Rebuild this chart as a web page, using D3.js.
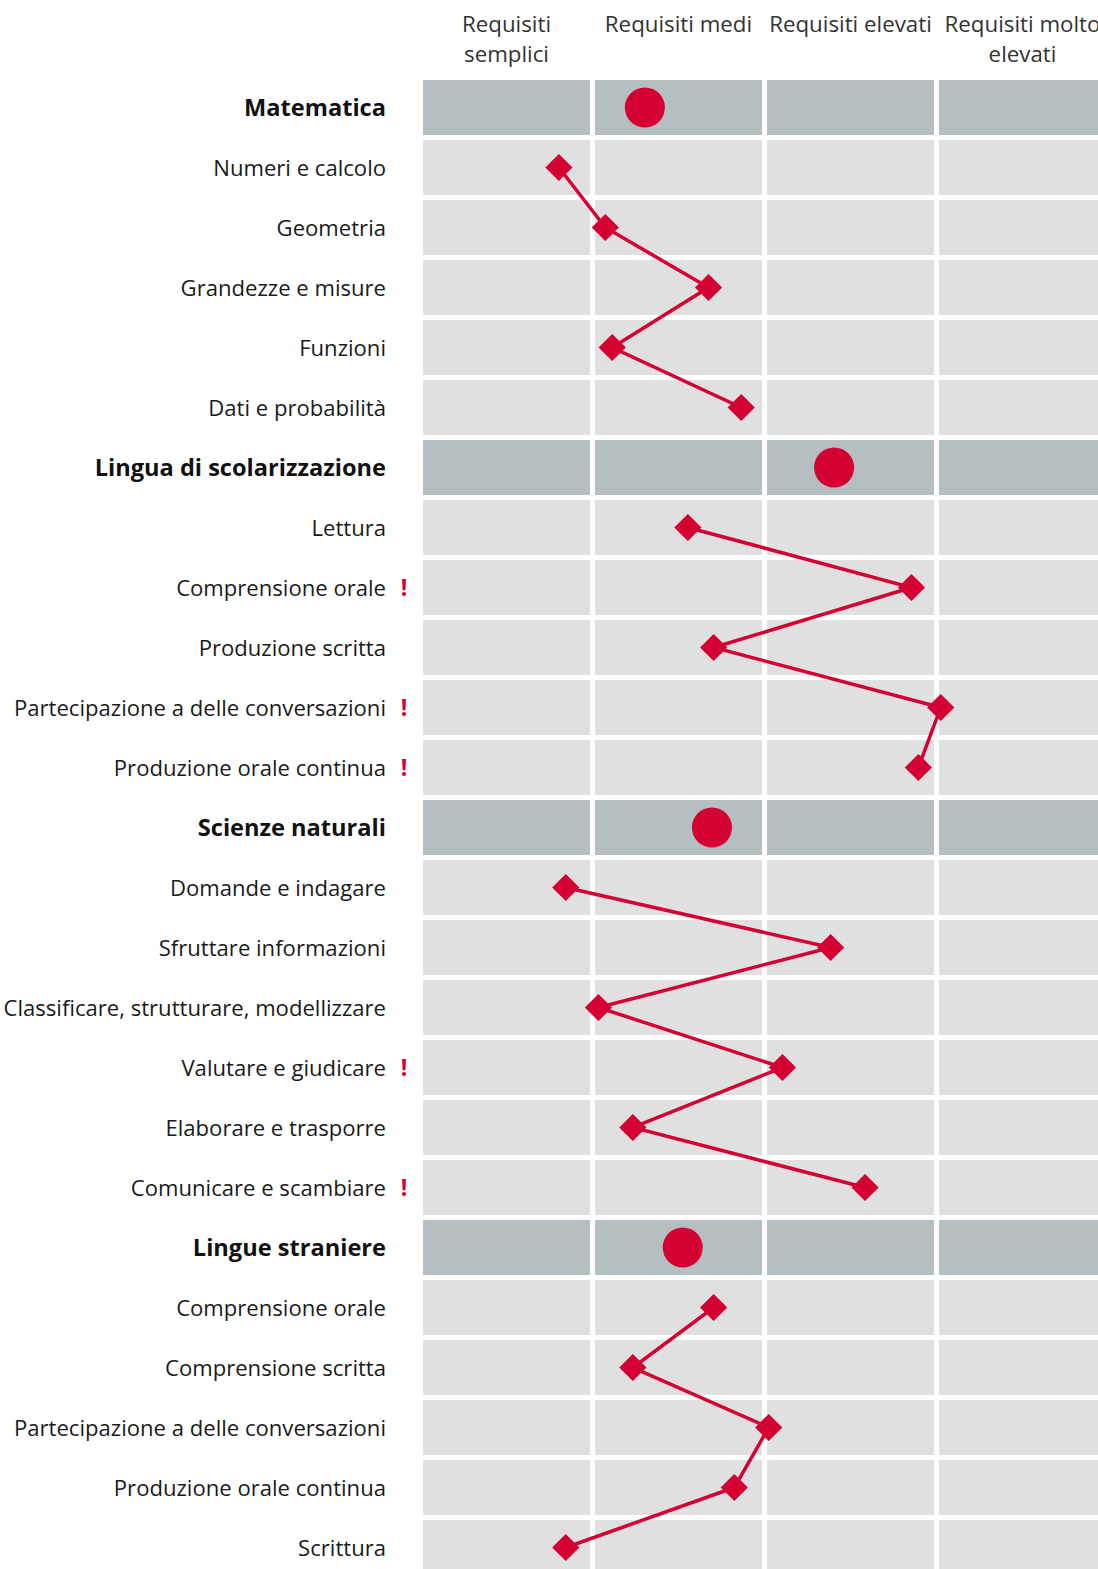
<!DOCTYPE html>
<html lang="it">
<head>
<meta charset="UTF-8">
<script src="https://d3js.org/d3.v7.min.js"></script>
<style>
  body { margin: 0; background: #fff; }
  svg { display: block; font-family: "Open Sans", "Noto Sans", sans-serif; }
  .label { font-size: 22.1px; fill: #1a1a1a; text-anchor: end; }
  .label.group { font-size: 23.6px; font-weight: 700; fill: #111; }
  .head { font-size: 22.3px; fill: #333; text-anchor: middle; }
  .warn { font-size: 23px; font-weight: 700; fill: #d50032; text-anchor: middle; }
</style>
</head>
<body>
<svg id="chart" width="1098" height="1569"></svg>
<script>
// column headings (two-line ones split with |)
const levels = ["Requisiti|semplici", "Requisiti medi", "Requisiti elevati", "Requisiti molto|elevati"];

// rows, top to bottom; group rows get a circle, others a diamond
const rowLabels = [
  "Matematica", "Numeri e calcolo", "Geometria", "Grandezze e misure", "Funzioni", "Dati e probabilità",
  "Lingua di scolarizzazione", "Lettura", "Comprensione orale", "Produzione scritta",
  "Partecipazione a delle conversazioni", "Produzione orale continua",
  "Scienze naturali", "Domande e indagare", "Sfruttare informazioni", "Classificare, strutturare, modellizzare",
  "Valutare e giudicare", "Elaborare e trasporre", "Comunicare e scambiare",
  "Lingue straniere", "Comprensione orale", "Comprensione scritta",
  "Partecipazione a delle conversazioni", "Produzione orale continua", "Scrittura"
];
const groupRow = [1,0,0,0,0,0, 1,0,0,0,0,0, 1,0,0,0,0,0,0, 1,0,0,0,0,0];
const groupId  = [0,0,0,0,0,0, 1,1,1,1,1,1, 2,2,2,2,2,2,2, 3,3,3,3,3,3];
const warning  = [0,0,0,0,0,0, 0,0,1,0,1,1, 0,0,0,0,1,0,1, 0,0,0,0,0,0];
// position on the level axis (0 = left edge of first column, 4 = right edge of last)
const levelValue = [
  1.29, 0.79, 1.06, 1.66, 1.10, 1.85,
  2.39, 1.54, 2.84, 1.69, 3.01, 2.88,
  1.68, 0.83, 2.37, 1.02, 2.09, 1.22, 2.57,
  1.51, 1.69, 1.22, 2.01, 1.81, 0.83
];

const svg = d3.select("#chart");
const red = "#d50032";

const y = d3.scaleBand().domain(d3.range(rowLabels.length)).range([80, 1575]).paddingInner(5 / 60);
const col = d3.scaleBand().domain(d3.range(levels.length)).range([423, 1106]).paddingInner(5 / 172);
const x = d3.scaleLinear().domain([0, 4]).range([423, 1111]);

// background cells
rowLabels.forEach((lab, i) => {
  svg.append("g").selectAll("rect").data(levels).join("rect")
     .attr("x", (d, j) => col(j))
     .attr("y", y(i))
     .attr("width", col.bandwidth())
     .attr("height", y.bandwidth())
     .attr("fill", groupRow[i] ? "#b5bec0" : "#e0e0e0");
});

// headings
levels.forEach((lev, j) => {
  const lines = lev.split("|");
  const t = svg.append("text").attr("class", "head")
     .attr("x", col(j) + col.bandwidth() / 2).attr("y", 32);
  lines.forEach((l, k) => t.append("tspan").attr("x", col(j) + col.bandwidth() / 2).attr("dy", k ? 30 : 0).text(l));
});

// row labels
svg.selectAll("text.label").data(rowLabels).join("text")
   .attr("class", (d, i) => groupRow[i] ? "label group" : "label")
   .attr("x", 386)
   .attr("y", (d, i) => y(i) + y.bandwidth() / 2 + 8)
   .text(d => d);

svg.selectAll("text.warn").data(rowLabels.map((d, i) => i).filter(i => warning[i])).join("text")
   .attr("class", "warn")
   .attr("x", 404)
   .attr("y", i => y(i) + y.bandwidth() / 2 + 8)
   .text("!");

// connecting lines per group (detail rows only)
const line = d3.line().x(i => x(levelValue[i])).y(i => y(i) + y.bandwidth() / 2);
d3.range(4).forEach(g => {
  const idx = d3.range(rowLabels.length).filter(i => groupId[i] === g && !groupRow[i]);
  svg.append("path").attr("d", line(idx))
     .attr("fill", "none").attr("stroke", red).attr("stroke-width", 3.5);
});

// markers
const idxAll = d3.range(rowLabels.length);
svg.selectAll("circle.grp").data(idxAll.filter(i => groupRow[i])).join("circle")
   .attr("class", "grp")
   .attr("cx", i => x(levelValue[i]))
   .attr("cy", i => y(i) + y.bandwidth() / 2)
   .attr("r", 20)
   .attr("fill", red);

svg.selectAll("path.dia").data(idxAll.filter(i => !groupRow[i])).join("path")
   .attr("class", "dia")
   .attr("d", d3.symbol().type(d3.symbolSquare).size(370))
   .attr("transform", i => `translate(${x(levelValue[i])},${y(i) + y.bandwidth() / 2}) rotate(45)`)
   .attr("fill", red);
</script>
</body>
</html>
